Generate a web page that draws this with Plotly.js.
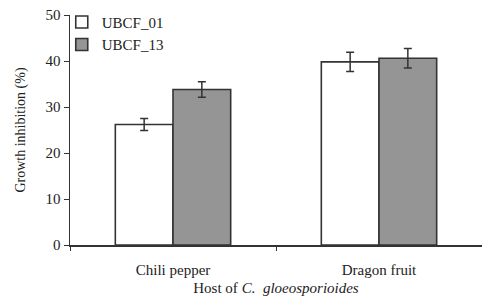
<!DOCTYPE html>
<html><head><meta charset="utf-8">
<script src="https://cdn.plot.ly/plotly-3.0.1.min.js"></script>
<style>html,body{margin:0;padding:0;background:#fff}</style>
</head><body>
<div id="chart" style="width:482px;height:300px"></div>
<script>
const categories = ["Chili pepper", "Dragon fruit"];
const seriesNames = ["UBCF_01", "UBCF_13"];
const ubcf01 = [26.2, 39.8];
const ubcf01Err = [1.3, 2.1];
const ubcf13 = [33.8, 40.6];
const ubcf13Err = [1.7, 2.1];
const yTicks = [0, 10, 20, 30, 40, 50];

const font = {family: "Liberation Serif, Times New Roman, serif", color: "#222", size: 15};
const traces = [
  {type: "bar", name: seriesNames[0], x: categories, y: ubcf01,
   marker: {color: "#ffffff", line: {color: "#333", width: 1.6}},
   error_y: {type: "data", array: ubcf01Err, visible: true, color: "#333", thickness: 1.5, width: 4}},
  {type: "bar", name: seriesNames[1], x: categories, y: ubcf13,
   marker: {color: "#959595", line: {color: "#333", width: 1.6}},
   error_y: {type: "data", array: ubcf13Err, visible: true, color: "#333", thickness: 1.5, width: 4}}
];
const layout = {
  width: 482, height: 300,
  margin: {l: 70, r: 0, t: 15, b: 55},
  paper_bgcolor: "#fff", plot_bgcolor: "#fff",
  font: font,
  barmode: "group", bargap: 0.44, bargroupgap: 0,
  showlegend: true,
  legend: {x: -0.02, y: 1.04, xanchor: "left", yanchor: "top", bgcolor: "rgba(0,0,0,0)",
           font: {family: font.family, size: 15, color: "#222"}, tracegroupgap: 0,
           itemwidth: 30},
  xaxis: {type: "category", range: [-0.5, 1.5], showline: true, linecolor: "#333", linewidth: 1.5,
          ticks: "outside", tickson: "boundaries", ticklen: 4, tickcolor: "#333",
          showgrid: false, zeroline: false, tickfont: {size: 15}, ticklabelstandoff: 10,
          title: {text: "Host of <i>C.  gloeosporioides</i>", font: {size: 15}, standoff: 6}},
  yaxis: {range: [0, 50], tickvals: yTicks, showline: true, linecolor: "#333", linewidth: 1.5,
          ticks: "outside", ticklen: 5, tickcolor: "#333", showgrid: false, zeroline: false,
          tickfont: {size: 15},
          title: {text: "Growth inhibition (%)", font: {size: 14}, standoff: 16}}
};
Plotly.newPlot("chart", traces, layout, {displayModeBar: false, staticPlot: true});
</script>
</body></html>
